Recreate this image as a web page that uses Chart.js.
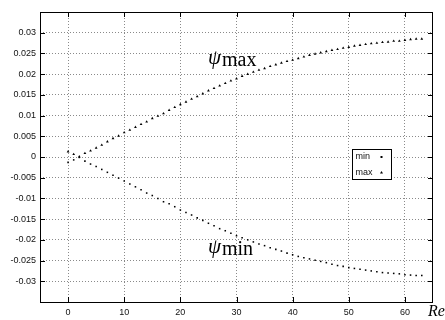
<!DOCTYPE html>
<html>
<head>
<meta charset="utf-8">
<script src="https://cdn.jsdelivr.net/npm/chart.js@4/dist/chart.umd.min.js"></script>
<style>
  html, body { margin: 0; padding: 0; background: #fff; }
  #wrap { width: 445px; height: 320px; position: relative; }
</style>
</head>
<body>
<div id="wrap"><canvas id="psiChart"></canvas></div>
<script>
// --- DATA ---
const reValues = [0, 1, 2, 3, 4, 5, 6, 7, 8, 9, 10, 11, 12, 13, 14, 15, 16, 17, 18, 19,
  20, 21, 22, 23, 24, 25, 26, 27, 28, 29, 30, 31, 32, 33, 34, 35, 36, 37, 38, 39,
  40, 41, 42, 43, 44, 45, 46, 47, 48, 49, 50, 51, 52, 53, 54, 55, 56, 57, 58, 59,
  60, 61, 62, 63];

const psiMin = [-0.0013, -0.0007, -0.0001, -0.001, -0.0017, -0.0023, -0.003, -0.0037, -0.0044, -0.0051,
  -0.0058, -0.0065, -0.0072, -0.0079, -0.0087, -0.0093, -0.01, -0.0108, -0.0113, -0.012,
  -0.0128, -0.0134, -0.014, -0.0147, -0.0153, -0.016, -0.0166, -0.0173, -0.0178, -0.0184,
  -0.019, -0.0195, -0.02, -0.0205, -0.021, -0.0214, -0.0219, -0.0223, -0.0227, -0.0232,
  -0.0236, -0.024, -0.0243, -0.0246, -0.0249, -0.0252, -0.0255, -0.0259, -0.0262, -0.0264,
  -0.0267, -0.0269, -0.0271, -0.0273, -0.0275, -0.0277, -0.0279, -0.028, -0.0281, -0.0282,
  -0.0284, -0.0285, -0.0286, -0.0286];

const psiMax = [0.0013, 0.00065, 0.0001, 0.0009, 0.0015, 0.0022, 0.0029, 0.0037, 0.0045, 0.0051,
  0.0059, 0.0065, 0.0072, 0.0079, 0.0085, 0.0093, 0.0099, 0.0105, 0.0113, 0.012,
  0.0127, 0.0133, 0.014, 0.0146, 0.0153, 0.016, 0.0166, 0.0172, 0.0178, 0.0184,
  0.0189, 0.0195, 0.02, 0.0205, 0.021, 0.0214, 0.0219, 0.0223, 0.0227, 0.0231,
  0.0234, 0.0238, 0.0242, 0.0246, 0.0249, 0.0252, 0.0255, 0.0258, 0.026, 0.0263,
  0.0265, 0.0268, 0.027, 0.0272, 0.0274, 0.0275, 0.0277, 0.0278, 0.028, 0.028,
  0.0282, 0.0284, 0.0285, 0.0285];

const xTicks = [0, 10, 20, 30, 40, 50, 60];
const yTicks = [-0.03, -0.025, -0.02, -0.015, -0.01, -0.005, 0, 0.005, 0.01, 0.015, 0.02, 0.025, 0.03];
const yTickLabels = ['-0.03', '-0.025', '-0.02', '-0.015', '-0.01', '-0.005', '0',
  '0.005', '0.01', '0.015', '0.02', '0.025', '0.03'];

const toPoints = (xs, ys) => xs.map((x, i) => ({ x: x, y: ys[i] }));

Chart.defaults.font.family = '"Liberation Sans", Arial, sans-serif';
Chart.defaults.font.size = 9;
Chart.defaults.color = '#111';

// --- FRAME, INWARD TICKS, LEGEND, LABELS ---
const framePlugin = {
  id: 'frame',
  afterDraw(chart) {
    const { ctx, chartArea: a, scales } = chart;
    ctx.save();
    ctx.strokeStyle = '#000';
    ctx.lineWidth = 1;
    ctx.strokeRect(Math.round(a.left) + 0.5, Math.round(a.top) + 0.5,
      Math.round(a.right - a.left) - 1, Math.round(a.bottom - a.top));

    // gnuplot style ticks, inside the border on all four sides
    ctx.beginPath();
    xTicks.forEach(v => {
      const px = Math.round(scales.x.getPixelForValue(v)) + 0.5;
      ctx.moveTo(px, a.bottom); ctx.lineTo(px, a.bottom - 5);
      ctx.moveTo(px, a.top); ctx.lineTo(px, a.top + 5);
    });
    yTicks.forEach(v => {
      const py = Math.round(scales.y.getPixelForValue(v)) + 0.5;
      ctx.moveTo(a.left, py); ctx.lineTo(a.left + 5, py);
      ctx.moveTo(a.right, py); ctx.lineTo(a.right - 5, py);
    });
    ctx.stroke();

    // legend box
    const lx = 352.5, ly = 149.5, lw = 39, lh = 30;
    ctx.fillStyle = '#fff';
    ctx.fillRect(lx, ly, lw, lh);
    ctx.strokeRect(lx, ly, lw, lh);
    ctx.font = '9px "Liberation Sans", Arial, sans-serif';
    ctx.textBaseline = 'middle';
    ctx.textAlign = 'left';
    chart.data.datasets.forEach((ds, i) => {
      const ty = ly + 7.5 + i * 15.5;
      ctx.fillStyle = '#111';
      ctx.fillText(ds.label, lx + 3, ty);
      ctx.fillStyle = '#000';
      if (ds.pointStyle === 'triangle') {
        ctx.beginPath();
        ctx.moveTo(lx + 29, ty - 1.5);
        ctx.lineTo(lx + 30.5, ty + 1);
        ctx.lineTo(lx + 27.5, ty + 1);
        ctx.closePath();
        ctx.fill();
      } else {
        ctx.fillRect(lx + 28, ty - 1, 2, 2);
      }
    });

    // curve labels
    const label = (px, py, sub) => {
      ctx.fillStyle = '#000';
      ctx.textBaseline = 'alphabetic';
      ctx.font = 'italic 21px "Liberation Serif", serif';
      ctx.fillText('\u03C8', px, py);
      ctx.font = '20px "Liberation Serif", serif';
      ctx.fillText(sub, px + 14, py + 2);
    };
    label(208, 64, 'max');
    label(208, 253, 'min');

    // axis title
    ctx.font = 'italic 16px "Liberation Serif", serif';
    ctx.fillText('Re', 428, 316);
    ctx.restore();
  }
};

new Chart(document.getElementById('psiChart'), {
  type: 'scatter',
  data: {
    datasets: [
      {
        label: 'min',
        data: toPoints(reValues, psiMin),
        pointStyle: 'rect',
        pointRadius: 1.1,
        backgroundColor: '#000',
        borderColor: '#000',
        borderWidth: 0
      },
      {
        label: 'max',
        data: toPoints(reValues, psiMax),
        pointStyle: 'triangle',
        pointRadius: 1.6,
        backgroundColor: '#000',
        borderColor: '#000',
        borderWidth: 0
      }
    ]
  },
  options: {
    responsive: true,
    maintainAspectRatio: false,
    animation: false,
    layout: { padding: { top: 12, right: 12, left: 0, bottom: 0 } },
    plugins: {
      legend: { display: false },
      tooltip: { enabled: false }
    },
    scales: {
      x: {
        type: 'linear',
        min: -5,
        max: 65,
        afterBuildTicks: s => { s.ticks = xTicks.map(v => ({ value: v })); },
        afterFit: s => { s.height = 18; },
        grid: { color: '#8a8a8a', lineWidth: 1, drawTicks: false },
        border: { display: false, dash: [1, 2] },
        ticks: { autoSkip: false, maxRotation: 0, padding: 5, callback: v => String(v) }
      },
      y: {
        type: 'linear',
        min: -0.035,
        max: 0.035,
        afterBuildTicks: s => { s.ticks = yTicks.map(v => ({ value: v })); },
        afterFit: s => { s.width = 40; },
        grid: { color: '#8a8a8a', lineWidth: 1, drawTicks: false },
        border: { display: false, dash: [1, 2] },
        ticks: { autoSkip: false, padding: 4, callback: (v, i) => yTickLabels[i] }
      }
    }
  },
  plugins: [framePlugin]
});
</script>
</body>
</html>
